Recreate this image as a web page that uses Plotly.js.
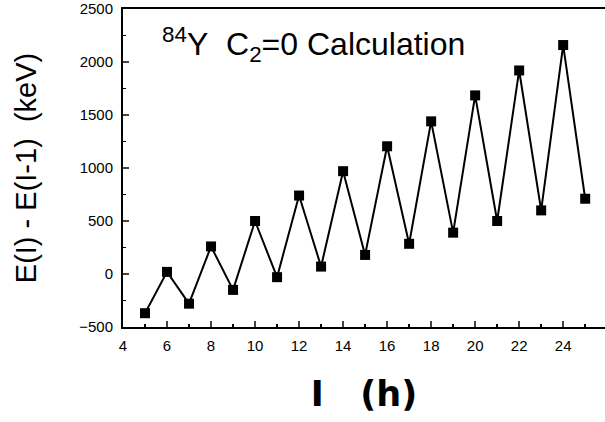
<!DOCTYPE html>
<html>
<head>
<meta charset="utf-8">
<script src="https://cdn.plot.ly/plotly-3.0.1.min.js"></script>
<style>html,body{margin:0;padding:0;background:#fff;}#chart{width:605px;height:422px;}</style>
</head>
<body>
<div id="chart"></div>
<script>
const spinI = [5, 6, 7, 8, 9, 10, 11, 12, 13, 14, 15, 16, 17, 18, 19, 20, 21, 22, 23, 24, 25];
const deltaE = [-370, 20, -280, 260, -150, 500, -30, 740, 70, 970, 180, 1205, 285, 1440, 390, 1685, 500, 1920, 600, 2160, 710];
const xTickVals = [4, 6, 8, 10, 12, 14, 16, 18, 20, 22, 24];
const yTickVals = [-500, 0, 500, 1000, 1500, 2000, 2500];
const chartTitle = '<sup>84</sup>Y\u00A0\u00A0C<sub>2</sub>=0 Calculation';
const xTitle = 'I\u00A0\u00A0\u00A0(h)';
const yTitle = 'E(I) - E(I-1)\u00A0\u00A0(keV)';

const trace = {
  x: spinI, y: deltaE, type: 'scatter', mode: 'lines+markers',
  line: {color: '#000', width: 2},
  marker: {symbol: 'square', size: 10, color: '#000'},
  showlegend: false
};

const layout = {
  width: 605, height: 422,
  margin: {l: 123, r: 0, t: 9, b: 95},
  paper_bgcolor: '#fff', plot_bgcolor: '#fff',
  font: {family: 'Arial, Liberation Sans, sans-serif', color: '#000'},
  xaxis: {
    range: [4, 25.9], tickvals: xTickVals, ticks: 'inside', ticklen: 6, tickwidth: 1.5,
    showline: true, linewidth: 2, linecolor: '#000', mirror: true,
    showgrid: false, zeroline: false,
    tickfont: {size: 15, family: 'Arial, Liberation Sans, sans-serif'},
    ticklabelstandoff: 4,
    minor: {dtick: 1, ticks: 'inside', ticklen: 3, tickcolor: '#000', showgrid: false},
    title: {text: xTitle, font: {size: 35, family: 'DejaVu Sans', weight: 'bold'}, standoff: 28}
  },
  yaxis: {
    range: [-500, 2500], tickvals: yTickVals, ticks: 'inside', ticklen: 6, tickwidth: 1.5,
    showline: true, linewidth: 2, linecolor: '#000', mirror: false,
    showgrid: false, zeroline: false,
    tickfont: {size: 15, family: 'Arial, Liberation Sans, sans-serif'},
    ticklabelstandoff: 5,
    minor: {dtick: 250, ticks: 'inside', ticklen: 3, tickcolor: '#000', showgrid: false},
    title: {text: yTitle, font: {size: 29, family: 'Arial, Liberation Sans, sans-serif'}, standoff: 34}
  },
  annotations: [{
    text: chartTitle, xref: 'paper', yref: 'paper', x: (160 - 123) / 482, y: (327 - 45) / 318,
    xanchor: 'left', yanchor: 'middle', showarrow: false,
    font: {size: 32, family: 'Arial, Liberation Sans, sans-serif', color: '#000'}
  }]
};

Plotly.newPlot('chart', [trace], layout, {staticPlot: true, displayModeBar: false});
</script>
</body>
</html>
